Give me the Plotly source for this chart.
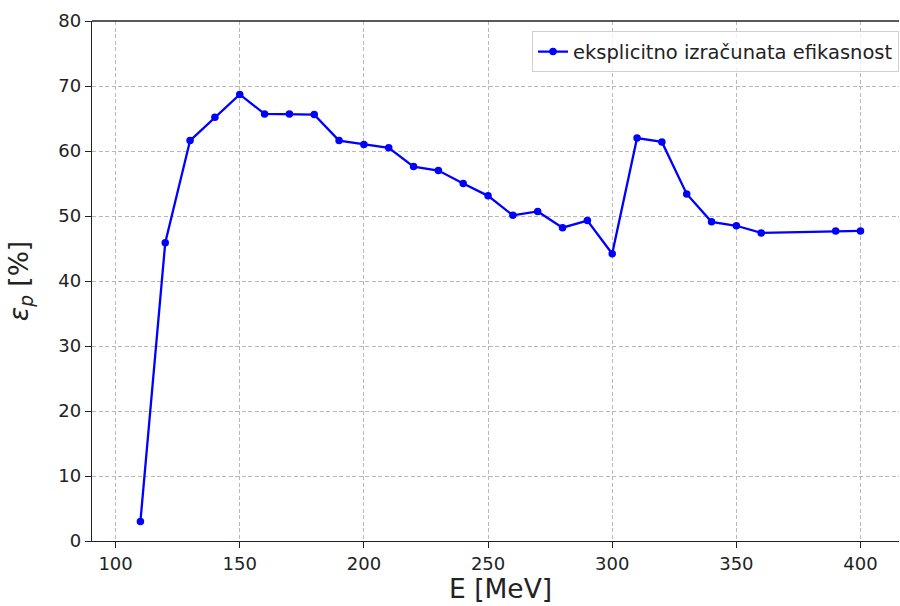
import plotly.graph_objects as go

energy = [110, 120, 130, 140, 150, 160, 170, 180, 190, 200, 210, 220, 230, 240, 250,
          260, 270, 280, 290, 300, 310, 320, 330, 340, 350, 360, 390, 400]
efficiency = [3.0, 45.9, 61.6, 65.2, 68.7, 65.7, 65.7, 65.6, 61.6, 61.0, 60.5, 57.6,
              57.0, 55.0, 53.1, 50.1, 50.7, 48.2, 49.3, 44.2, 62.0, 61.4, 53.4, 49.1,
              48.5, 47.4, 47.7, 47.7]
x_ticks = [100, 150, 200, 250, 300, 350, 400]
y_ticks = [0, 10, 20, 30, 40, 50, 60, 70, 80]

font = "DejaVu Sans, sans-serif"

fig = go.Figure()
fig.add_trace(go.Scatter(
    x=energy, y=efficiency, mode="lines+markers",
    name="eksplicitno izračunata efikasnost",
    line=dict(color="#0000ff", width=2.3),
    marker=dict(color="#0000ff", size=7.5),
))

axis_common = dict(
    showline=True, linecolor="#222", linewidth=1.3, mirror=False,
    ticks="outside", ticklen=6, tickwidth=1.2, tickcolor="#222",
    showgrid=True, gridcolor="#b8b8b8", griddash="4px,2.5px", gridwidth=1,
    zeroline=False, automargin=False,
    tickfont=dict(family=font, size=18, color="#222"),
)

fig.update_layout(
    width=900, height=606,
    paper_bgcolor="white", plot_bgcolor="white",
    margin=dict(l=92, r=1, t=21, b=65),
    font=dict(family=font, color="#222"),
    xaxis=dict(range=[90.5, 415.5], tickvals=x_ticks, **axis_common),
    yaxis=dict(range=[0, 80], tickvals=y_ticks,
               title=dict(text="<i>ε<sub>p</sub></i> [%]", font=dict(family=font, size=26.5, color="#222"), standoff=22),
               **axis_common),
    legend=dict(x=1.0, y=0.98, xanchor="right", yanchor="top",
                bgcolor="rgba(255,255,255,0.8)", bordercolor="#d0d0d0", borderwidth=1,
                font=dict(family=font, size=19.5, color="#222")),
    showlegend=True,
    shapes=[dict(type="line", xref="paper", yref="paper", x0=0, x1=1, y0=1, y1=1,
                 line=dict(color="#222", width=1.3))],
    annotations=[dict(text="E [MeV]", xref="paper", yref="paper", x=0.506, y=0,
                      xanchor="center", yanchor="top", yshift=-30, showarrow=False,
                      font=dict(family=font, size=26.5, color="#222"))],
)

fig.write_html("out.html",
               config={"displayModeBar": False},
               post_script="document.body.style.margin='0';document.body.style.overflow='hidden';")
